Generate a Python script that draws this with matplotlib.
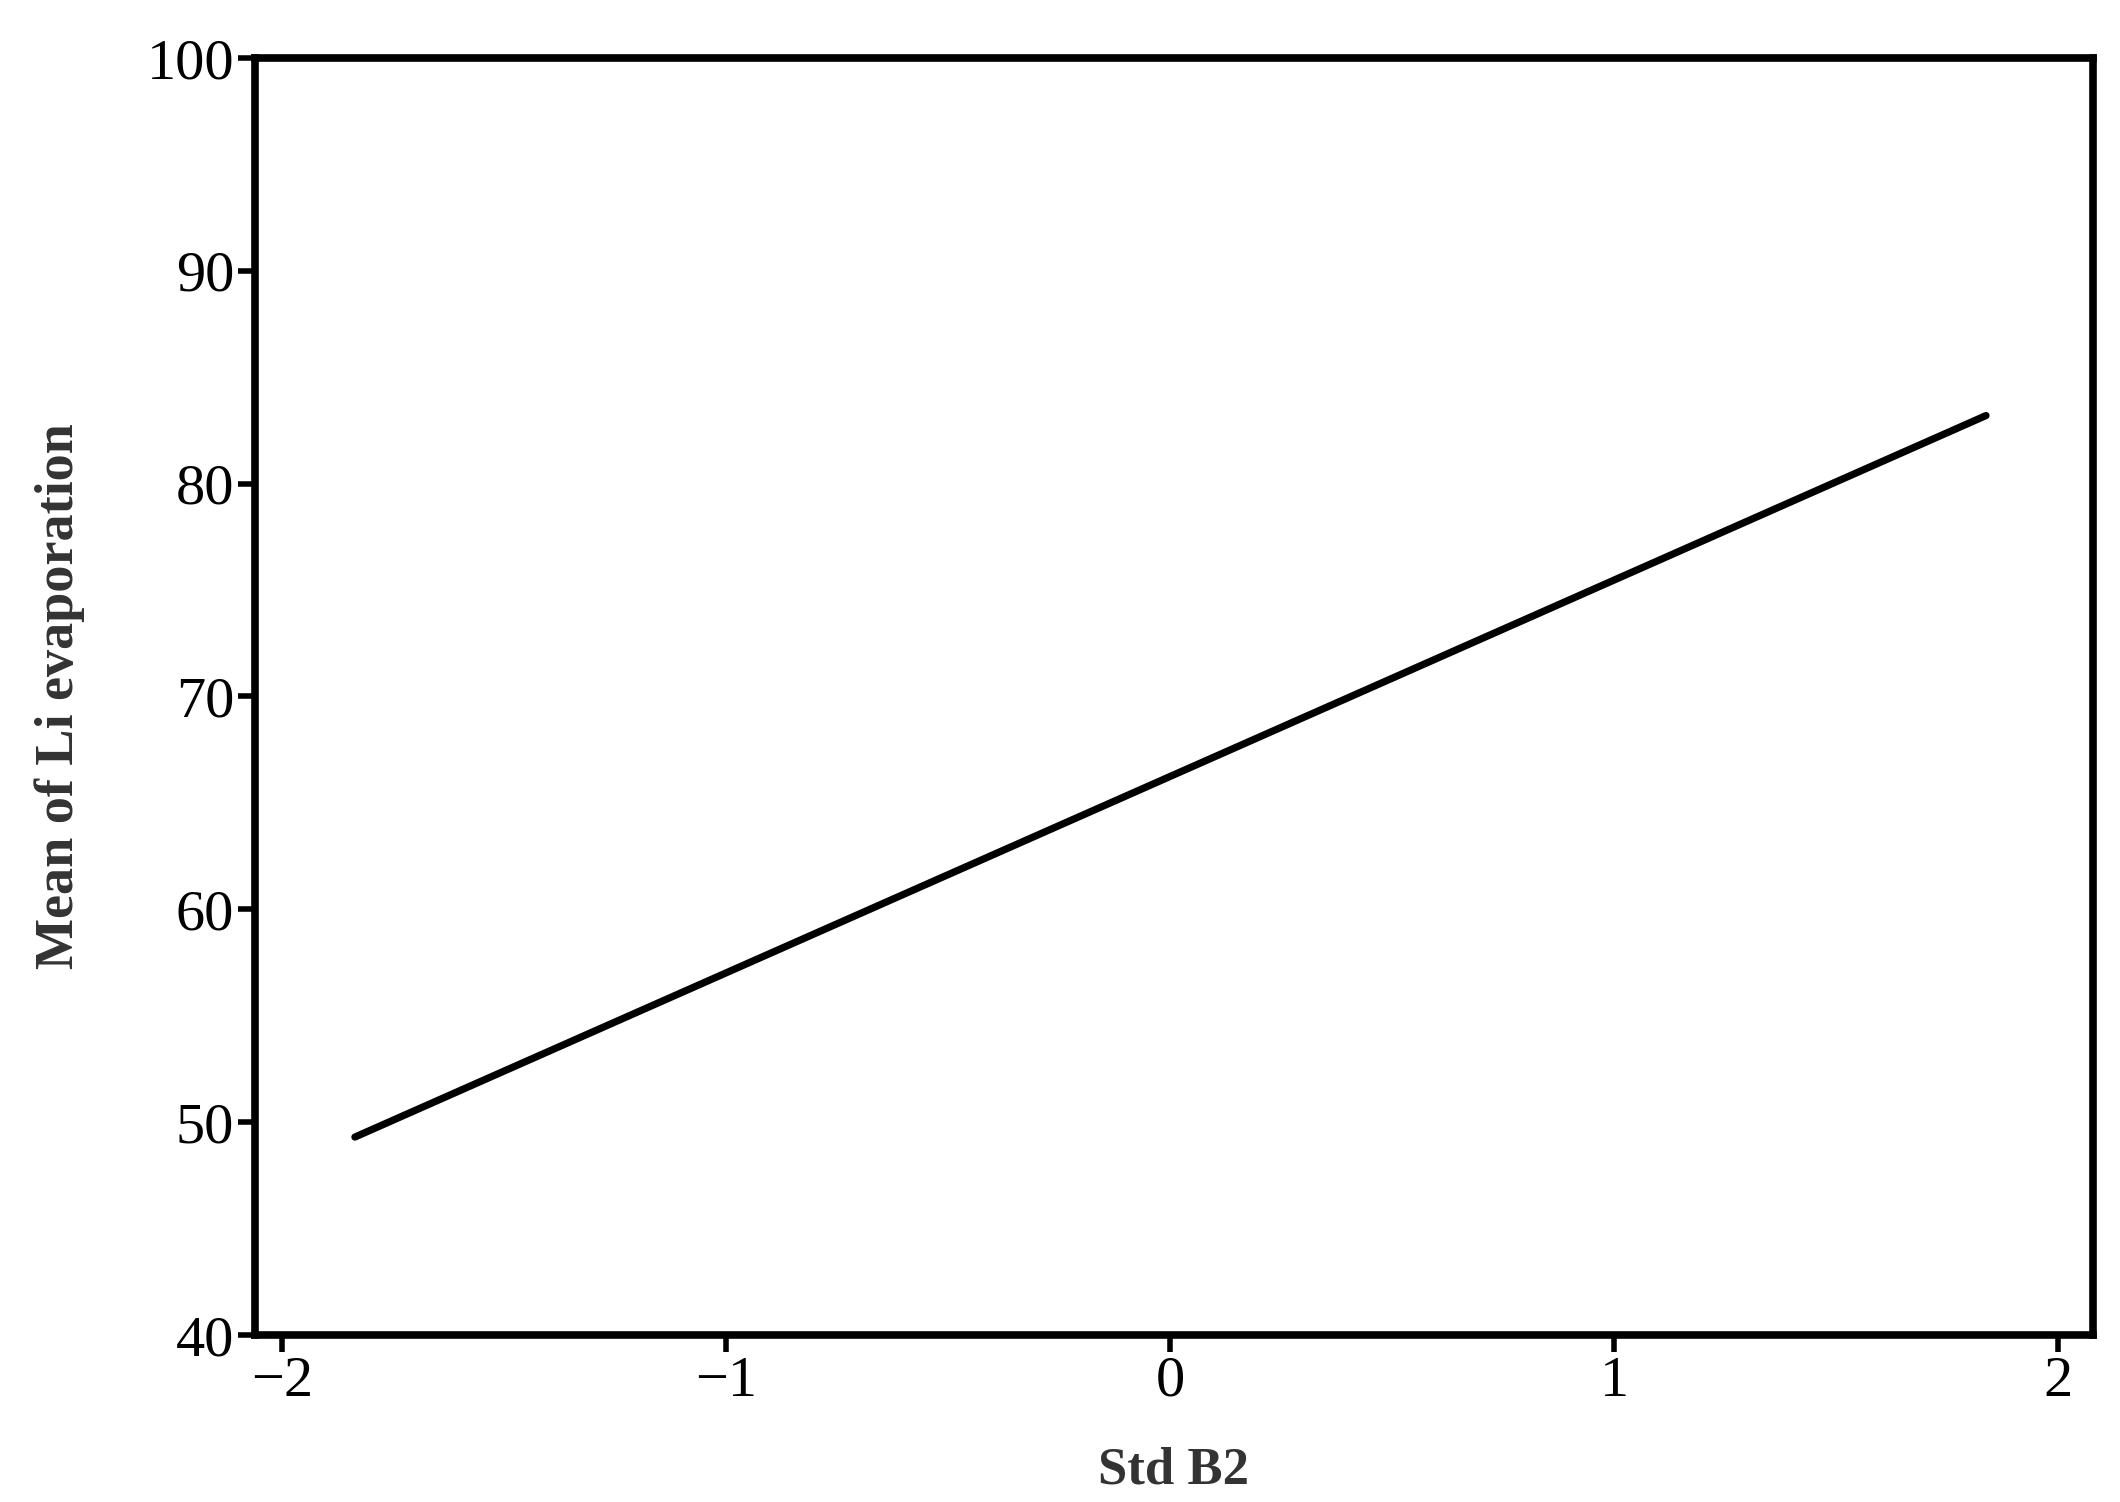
import matplotlib.pyplot as plt
import numpy as np

plt.rcParams['font.family'] = ['Liberation Serif', 'DejaVu Serif']

# fitted line: mean Li evaporation vs standardised B2
std_b2 = [-1.836, 1.838]
li_evap = [49.3, 83.2]

x_ticks = [-2, -1, 0, 1, 2]
y_ticks = [40, 50, 60, 70, 80, 90, 100]

fig = plt.figure(figsize=(21.2, 15.02), dpi=100)
ax = fig.add_axes([255 / 2120, 1 - 1335 / 1502, (2093 - 255) / 2120, (1335 - 58) / 1502])

ax.plot(std_b2, li_evap, color='black', lw=5.2, solid_capstyle='round')

ax.set_xlim(-2.061, 2.079)
ax.set_ylim(40, 100)
ax.set_xticks(x_ticks)
ax.set_xticklabels(['\u22122', '\u22121', '0', '1', '2'])
ax.set_yticks(y_ticks)

for s in ax.spines.values():
    s.set_linewidth(5.5)
ax.tick_params(direction='out', length=12, width=4, labelsize=42, pad=3)

ax.set_xlabel('Std B2', fontsize=38, fontweight='bold', color='#333333', labelpad=28)
ax.set_ylabel('Mean of Li evaporation', fontsize=39, fontweight='bold', color='#333333', labelpad=44)

fig.savefig('out.png', dpi=100)
